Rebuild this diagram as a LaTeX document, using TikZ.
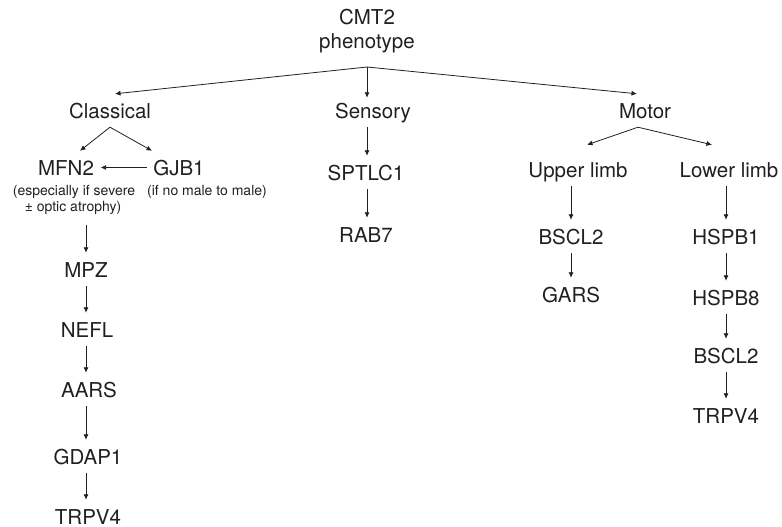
\documentclass[tikz,border=0pt]{standalone}
\usepackage{fontspec}
\setmainfont{TeX Gyre Heros}
\usetikzlibrary{arrows.meta,calc}
\definecolor{ink}{RGB}{35,31,32}
\begin{document}
\begin{tikzpicture}[x=1pt,y=-1pt,
  every node/.style={text=ink},
  lbl/.style={anchor=base,font=\fontsize{20.5}{22}\selectfont,text height=15pt,text depth=0pt,inner ysep=9pt,inner xsep=6.5pt},
  note/.style={anchor=base,font=\fontsize{14}{16}\selectfont,text height=10pt,text depth=3pt,inner ysep=11pt,inner xsep=0pt},
  arr/.style={draw=ink,line width=0.8pt,-{Latex[length=5.5pt,width=5pt]}}]
\useasboundingbox (0,0) rectangle (782,527);
% top
\node[lbl] (cmt) at (367,25) {CMT2};
\node[lbl] (pheno) at (367,49) {phenotype};
\coordinate (apex) at (367,67);
\node[lbl] (classical) at (110,118) {Classical};
\node[lbl] (sensory) at (373,118) {Sensory};
\node[lbl] (motor) at (645,118) {Motor};
\draw[arr] (apex) -- ([xshift=5pt]classical.north);
\draw[arr] (apex) -- ([yshift=-4pt]apex |- sensory.north);
\draw[arr] (apex) -- ([xshift=-8pt]motor.north);
% classical
\node[lbl] (mfn) at (66,175) {MFN2};
\node[lbl] (gjb) at (179,175) {GJB1};
\draw[arr] (classical.south) -- ([xshift=14pt]mfn.north);
\draw[arr] (classical.south) -- ([xshift=-27pt]gjb.north);
\draw[arr] (gjb.west) -- (mfn.east);
\node[note] (esp1) at (74,195) {(especially if severe};
\node[note] (esp2) at (73,211) {\textpm{} optic atrophy)};
\node[note] (male) at (207,195) {(if no male to male)};
\node[lbl] (mpz) at (86,277) {MPZ};
\node[lbl] (nefl) at (87,337) {NEFL};
\node[lbl] (aars) at (89,397) {AARS};
\node[lbl] (gdap) at (88,464) {GDAP1};
\node[lbl] (trpvl) at (88,524) {TRPV4};
\draw[arr] (mpz.north |- esp2.south) -- (mpz.north);
\draw[arr] (mpz.south) -- (mpz.south |- nefl.north);
\draw[arr] (mpz.south |- nefl.south) -- (mpz.south |- aars.north);
\draw[arr] (mpz.south |- aars.south) -- (mpz.south |- gdap.north);
\draw[arr] (mpz.south |- gdap.south) -- (mpz.south |- trpvl.north);
% sensory
\node[lbl] (sptlc) at (366,180) {SPTLC1};
\node[lbl] (rab) at (366,242) {RAB7};
\draw[arr] (apex |- sensory.south) -- (apex |- sptlc.north);
\draw[arr] (apex |- sptlc.south) -- (apex |- rab.north);
% motor
\node[lbl] (upper) at (578,177) {Upper limb};
\node[lbl] (lower) at (729,177) {Lower limb};
\draw[arr] ([xshift=-7pt]motor.south) -- ([shift={(9,-8)}]upper.north);
\draw[arr] ([xshift=-7pt]motor.south) -- ([shift={(-17,-8)}]lower.north);
\node[lbl] (bscla) at (571,244) {BSCL2};
\node[lbl] (gars) at (571,302) {GARS};
\draw[arr] (bscla.north |- upper.south) -- (bscla.north);
\draw[arr] (bscla.south) -- (gars.north);
\node[lbl] (hspa) at (726,244) {HSPB1};
\node[lbl] (hspb) at (726,305) {HSPB8};
\node[lbl] (bsclb) at (726,363) {BSCL2};
\node[lbl] (trpvr) at (726,423) {TRPV4};
\draw[arr] (hspa.north |- lower.south) -- (hspa.north);
\draw[arr] (hspa.south) -- (hspb.north);
\draw[arr] (hspb.south) -- (bsclb.north);
\draw[arr] (bsclb.south) -- (trpvr.north);
\end{tikzpicture}
\end{document}
